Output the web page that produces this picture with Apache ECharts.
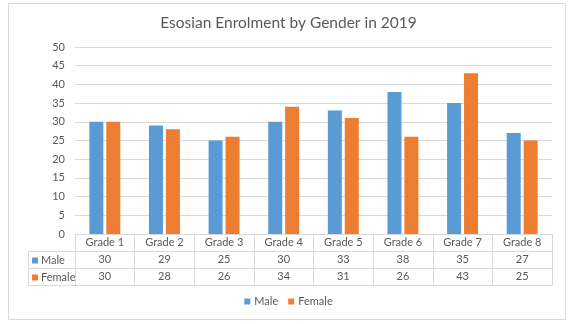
<!DOCTYPE html>
<html>
<head>
<meta charset="utf-8">
<script src="https://cdn.jsdelivr.net/npm/echarts@6/dist/echarts.min.js"></script>
<style>html,body{margin:0;padding:0;background:#fff}#c{width:577px;height:324px}</style>
</head>
<body>
<div id="c"></div>
<script>
const categories = ['Grade 1','Grade 2','Grade 3','Grade 4','Grade 5','Grade 6','Grade 7','Grade 8'];
const male = [30, 29, 25, 30, 33, 38, 35, 27];
const female = [30, 28, 26, 34, 31, 26, 43, 25];
const seriesNames = ['Male', 'Female'];
const colors = ['#5b9bd5', '#ed7d31'];
const yMin = 0, yMax = 50, yStep = 5;

const FONT = 'Lato';
const TXT = '#595959';
const LINE = '#d9d9d9';
const G = {left: 75, right: 25, top: 47, bottom: 90};
const ROW = 17;
const tableLeft = 28;
const axisY = 324 - G.bottom;

const chart = echarts.init(document.getElementById('c'));

function rowAxis(idx, values, name) {
  return {
    type: 'category', data: categories, gridIndex: 0, position: 'bottom', offset: ROW * idx,
    axisLine: {show: true, lineStyle: {color: LINE}},
    axisTick: {show: false},
    axisLabel: values ? {show: true, margin: 3, fontFamily: FONT, fontSize: 11, color: TXT,
      formatter: (v, i) => String(values[i])} : {show: false},
    name: name ? '{sq|}{t|' + name + '}' : '',
    nameLocation: 'start', nameGap: G.left - tableLeft - 4,
    nameTextStyle: name ? {align: 'left', verticalAlign: 'top', padding: [4, 0, 0, 0],
      rich: {
        sq: {width: 6, height: 6, backgroundColor: colors[idx - 1]},
        t: {fontFamily: FONT, fontSize: 11, color: TXT, padding: [0, 0, 0, 3]}
      }} : {}
  };
}

const graphics = [
  {type: 'rect', shape: {x: 8.5, y: 3.5, width: 557, height: 316}, style: {fill: 'none', stroke: LINE, lineWidth: 1}, silent: true}
];
for (let k = 1; k <= 3; k++) {
  graphics.push({type: 'line', shape: {x1: tableLeft, y1: axisY + ROW * k + 0.5, x2: G.left, y2: axisY + ROW * k + 0.5},
    style: {stroke: LINE, lineWidth: 1}, silent: true});
}
graphics.push({type: 'line', shape: {x1: tableLeft + 0.5, y1: axisY + ROW, x2: tableLeft + 0.5, y2: axisY + ROW * 3},
  style: {stroke: LINE, lineWidth: 1}, silent: true});

chart.setOption({
  animation: false,
  title: {text: 'Esosian Enrolment by Gender in 2019', left: 'center', top: 10,
    textStyle: {fontFamily: FONT, fontSize: 15.5, fontWeight: 'normal', color: TXT}},
  legend: {data: seriesNames, bottom: 12, left: 'center', icon: 'rect', itemWidth: 6, itemHeight: 6, itemGap: 10,
    textStyle: {fontFamily: FONT, fontSize: 11, color: TXT, padding: [0, 0, 0, -1]}},
  grid: G,
  xAxis: [
    {type: 'category', data: categories, gridIndex: 0, position: 'bottom',
      axisLine: {show: true, lineStyle: {color: LINE}},
      axisTick: {show: true, alignWithLabel: false, length: ROW * 3, lineStyle: {color: LINE}},
      axisLabel: {margin: 3, fontFamily: FONT, fontSize: 11, color: TXT}},
    rowAxis(1, male, seriesNames[0]),
    rowAxis(2, female, seriesNames[1]),
    rowAxis(3, null, null)
  ],
  yAxis: {type: 'value', min: yMin, max: yMax, interval: yStep,
    axisLine: {show: false}, axisTick: {show: false},
    axisLabel: {margin: 10, fontFamily: FONT, fontSize: 11, color: TXT},
    splitLine: {lineStyle: {color: LINE}}},
  series: [
    {name: seriesNames[0], type: 'bar', data: male, barWidth: 14, barGap: '21%', itemStyle: {color: colors[0]}},
    {name: seriesNames[1], type: 'bar', data: female, barWidth: 14, barGap: '21%', itemStyle: {color: colors[1]}}
  ],
  graphic: graphics
});
</script>
</body>
</html>
